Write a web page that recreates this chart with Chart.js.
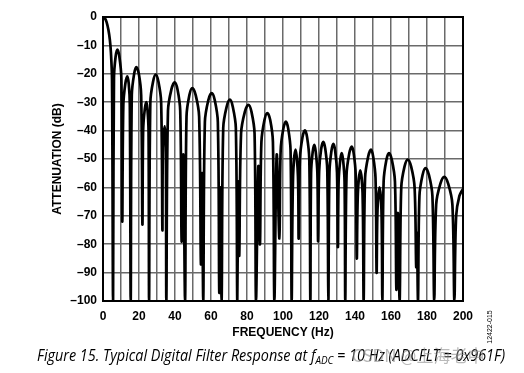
<!DOCTYPE html>
<html>
<head>
<meta charset="utf-8">
<script src="https://cdn.jsdelivr.net/npm/chart.js@4.4.1/dist/chart.umd.min.js"></script>
<style>
    html, body { margin: 0; padding: 0; background: #fff; }
    #wrap { width: 524px; height: 373px; }
</style>
</head>
<body>
<div id="wrap"><canvas id="myChart" width="524" height="373"></canvas></div>
<script>
// frequency (Hz) and attenuation (dB): nulls, lobe shoulders and peaks
const freqHz = [
    0, 1.0, 2.0, 3.0, 3.8, 4.4, 5.0, 5.6,
    6.1, 7.0, 8.0, 9.1, 10.2, 10.7,
    11.3, 12.4, 13.5, 14.3, 14.9, 15.4,
    16.0, 17.3, 18.5, 19.9, 21.2, 21.9,
    22.3, 23.2, 24.1, 24.7, 25.3, 25.6,
    26.3, 27.8, 29.3, 30.8, 32.3, 33.0,
    33.3, 34.3, 34.9, 35.2,
    36.1, 38.0, 39.8, 41.4, 42.9, 43.7, 44.6, 45.6,
    46.4, 48.0, 49.6, 51.5, 53.4, 54.4, 55.0, 55.7,
    56.6, 58.5, 60.4, 62.1, 63.8, 64.6, 65.2, 65.9,
    66.8, 68.7, 70.5, 72.1, 73.8, 74.6, 75.2, 75.7,
    76.7, 78.8, 80.8, 82.5, 84.2, 85.0, 86.3, 87.2,
    88.0, 89.7, 91.3, 92.9, 94.4, 95.2, 96.5, 98.0,
    98.7, 100.2, 101.6, 102.9, 104.2, 104.8,
    105.6, 107.0, 108.3, 108.7,
    109.4, 110.8, 112.2, 113.4, 114.6, 115.2,
    115.6, 116.5, 117.4, 118.2, 119.1, 119.5,
    120.1, 121.2, 122.4, 123.5, 124.6, 125.2,
    125.8, 126.9, 128.0, 129.0, 130.0, 130.5,
    130.9, 131.8, 132.6, 133.4, 134.2, 134.6,
    135.3, 136.8, 138.2, 139.3, 140.4, 141.0,
    141.6, 142.9, 144.2, 144.8,
    145.6, 147.3, 148.9, 150.1, 151.4, 152.0,
    152.5, 153.6, 154.7, 155.2,
    155.9, 157.4, 158.9, 160.5, 162.2, 163.0, 163.8, 164.8,
    165.7, 167.5, 169.3, 171.2, 173.1, 174.0, 174.4, 175.0,
    175.8, 177.5, 179.2, 181.1, 183.0, 184.0,
    185.1, 187.4, 189.6, 191.8, 194.1, 195.2,
    196.2, 198.0, 200.0
];
const attenuationDb = [
    0, -0.4, -1.8, -4.5, -8, -12.5, -22, -100,
    -21.5, -14, -11.5, -14, -21.5, -72,
    -31, -23.5, -20.9, -23.5, -31, -100,
    -27.5, -20, -17.6, -20, -27.5, -73,
    -40, -32.5, -30, -32.5, -40, -100,
    -30, -22.8, -20.3, -22.8, -30, -75,
    -46, -38.5, -46, -100,
    -33, -25.5, -23, -25.5, -33, -79, -48.5, -100,
    -35, -27.5, -25, -27.5, -35, -87, -55, -100,
    -37, -29.3, -26.8, -29.3, -37, -97, -60, -100,
    -39, -31.6, -29.1, -31.6, -39, -100, -58, -84,
    -41, -33.4, -30.9, -33.4, -41, -100, -52.6, -80,
    -44, -36.3, -33.8, -36.3, -44, -100, -48.5, -78,
    -47, -39.3, -36.8, -39.3, -47, -100,
    -56, -46.7, -56, -78,
    -50, -42.4, -39.9, -42.4, -50, -100,
    -55, -47.5, -45, -47.5, -55, -79,
    -54, -46.5, -44, -46.5, -54, -100,
    -54.7, -47.2, -44.7, -47.2, -54.7, -81,
    -58, -50.4, -47.9, -50.4, -58, -100,
    -55.6, -48.1, -45.6, -48.1, -55.6, -85,
    -62, -54, -62, -100,
    -56.7, -49.2, -46.7, -49.2, -56.7, -90,
    -68, -60, -68, -100,
    -58, -50.4, -47.9, -50.4, -58, -96, -69, -100,
    -60, -52.7, -50.2, -52.7, -60, -88, -76, -100,
    -63, -55.7, -53.2, -55.7, -63, -100,
    -66, -58.8, -56.3, -58.8, -66, -100,
    -70, -63, -60.5
];

const xTickLabels = [0, 20, 40, 60, 80, 100, 120, 140, 160, 180, 200];
const yTickValues = [0, -10, -20, -30, -40, -50, -60, -70, -80, -90, -100];

const points = freqHz.map((f, i) => ({ x: f, y: attenuationDb[i] }));

const axisFont = { family: '"Liberation Sans", Arial, sans-serif', size: 12, weight: 'bold' };

// frame, caption and the small figure code
const extras = {
    id: 'extras',
    afterDraw(chart) {
        const ctx = chart.ctx;
        const a = chart.chartArea;
        ctx.save();
        ctx.strokeStyle = '#000';
        ctx.lineWidth = 2;
        ctx.strokeRect(a.left, a.top, a.right - a.left, a.bottom - a.top);

        // caption, squeezed to the width it has in the figure
        const part1 = 'Figure 15. Typical Digital Filter Response at f';
        const sub = 'ADC';
        const part2 = ' = 10 Hz (ADCFLT = 0x961F)';
        const big = 'italic 16px "Open Sans", sans-serif';
        const small = 'italic 11px "Open Sans", sans-serif';
        ctx.font = big;
        const w1 = ctx.measureText(part1).width;
        const w3 = ctx.measureText(part2).width;
        ctx.font = small;
        const w2 = ctx.measureText(sub).width;
        const sx = 468 / (w1 + w2 + w3);
        ctx.save();
        ctx.translate(37, 361);
        ctx.scale(sx, 1);
        ctx.fillStyle = '#000';
        ctx.textBaseline = 'alphabetic';
        ctx.font = big;
        ctx.fillText(part1, 0, 0);
        ctx.font = small;
        ctx.fillText(sub, w1, 3);
        ctx.font = big;
        ctx.fillText(part2, w1 + w2, 0);
        ctx.restore();

        // watermark
        ctx.fillStyle = 'rgba(140,140,140,0.6)';
        ctx.font = '17px "Noto Sans CJK SC", sans-serif';
        ctx.textAlign = 'left';
        ctx.fillText('CSDN @上海老中', 352, 362);

        // figure code at the right
        ctx.save();
        ctx.translate(490, 327);
        ctx.rotate(-Math.PI / 2);
        ctx.fillStyle = '#000';
        ctx.font = '7px "Liberation Sans", Arial, sans-serif';
        ctx.textAlign = 'center';
        ctx.textBaseline = 'middle';
        ctx.fillText('12422-015', 0, 0);
        ctx.restore();
        ctx.restore();
    }
};

new Chart(document.getElementById('myChart'), {
    type: 'line',
    data: {
        datasets: [{
            label: 'Filter response',
            data: points,
            borderColor: '#000',
            borderWidth: 2.7,
            pointRadius: 0,
            tension: 0.35,
            fill: false
        }]
    },
    options: {
        responsive: false,
        animation: false,
        layout: { padding: { left: 0, top: 17, right: 61, bottom: 0 } },
        plugins: { legend: { display: false }, tooltip: { enabled: false } },
        scales: {
            x: {
                type: 'linear',
                min: 0,
                max: 200,
                afterFit: s => { s.height = 72; },
                ticks: {
                    stepSize: 10,
                    autoSkip: false,
                    maxRotation: 0,
                    padding: 8,
                    color: '#000',
                    font: axisFont,
                    callback: v => xTickLabels.includes(v) ? String(v) : ''
                },
                grid: { color: '#6a6a6a', lineWidth: 1.5, drawTicks: false },
                border: { color: '#000', width: 2 },
                title: {
                    display: true,
                    text: 'FREQUENCY (Hz)',
                    color: '#000',
                    font: axisFont,
                    padding: { top: 0, bottom: 33 }
                }
            },
            y: {
                min: -100,
                max: 0,
                afterFit: s => { s.width = 103; },
                ticks: {
                    stepSize: 10,
                    padding: 6,
                    color: '#000',
                    font: axisFont,
                    callback: v => yTickValues.includes(v) ? (v === 0 ? '0' : '\u2013' + Math.abs(v)) : ''
                },
                grid: { color: '#6a6a6a', lineWidth: 1.5, drawTicks: false },
                border: { color: '#000', width: 2 },
                title: {
                    display: true,
                    text: 'ATTENUATION (dB)',
                    color: '#000',
                    font: axisFont,
                    padding: { top: 50, bottom: 0 }
                }
            }
        }
    },
    plugins: [extras]
});
</script>
</body>
</html>
